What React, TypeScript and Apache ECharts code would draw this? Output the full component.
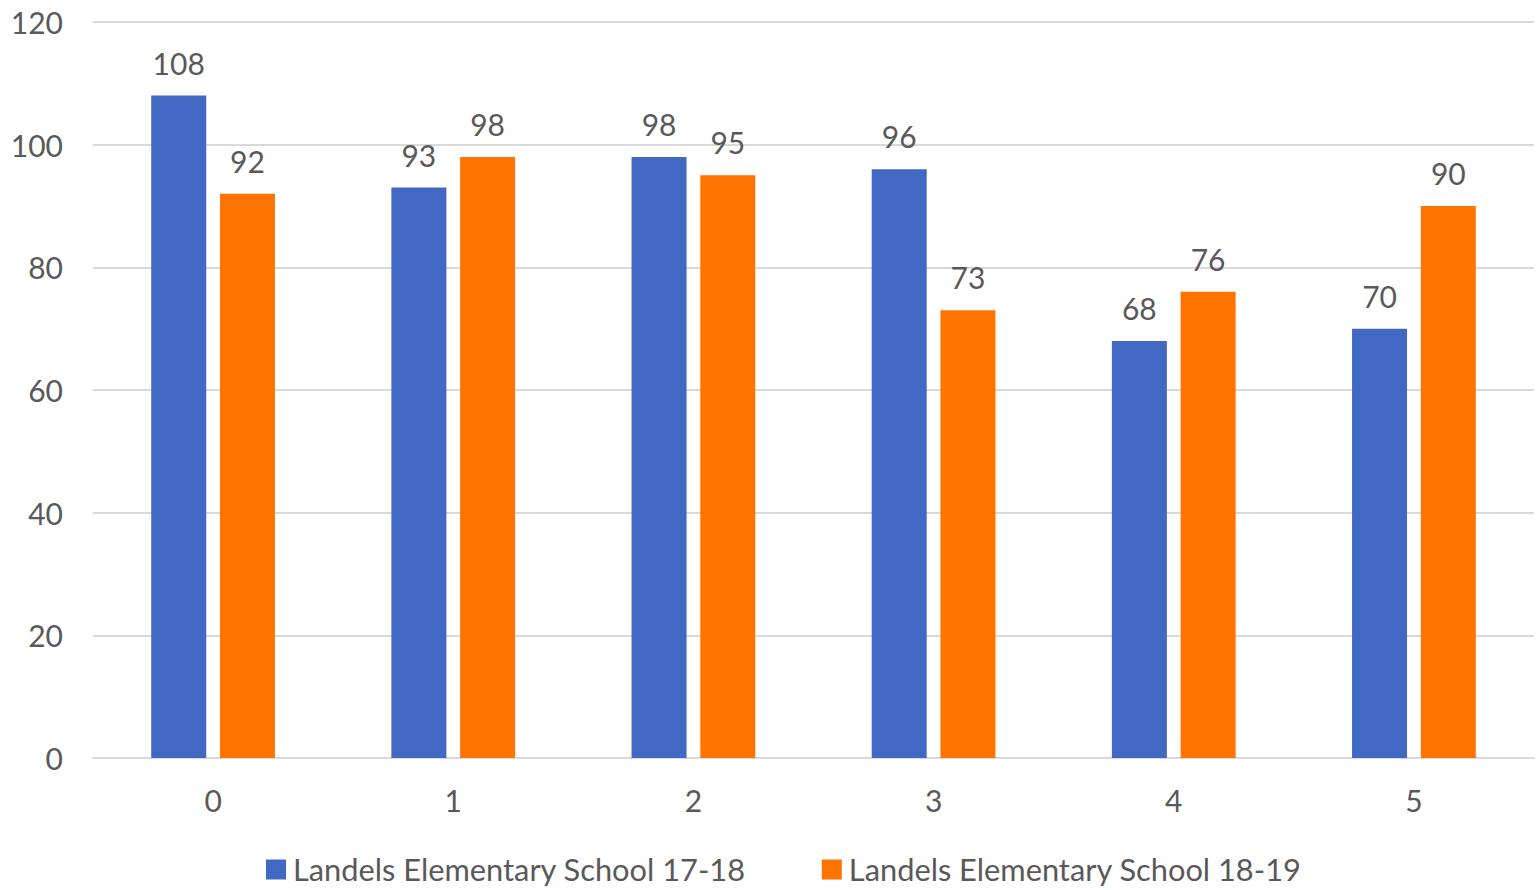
import React, { useEffect, useRef } from "react";
import * as echarts from "echarts";

const categories = ["0", "1", "2", "3", "4", "5"];
const series1Name = "Landels Elementary School 17-18";
const series2Name = "Landels Elementary School 18-19";
const series1Values = [108, 93, 98, 96, 68, 70];
const series2Values = [92, 98, 95, 73, 76, 90];
const yTicks = { min: 0, max: 120, interval: 20 };

const FONT = "Lato";
const TEXT = "#595959";

export default function App() {
  const ref = useRef<HTMLDivElement>(null);
  useEffect(() => {
    if (!ref.current) return;
    const chart = echarts.init(ref.current, null, { renderer: "svg" });
    const label = {
      show: true,
      position: "top" as const,
      distance: 18,
      color: TEXT,
      fontSize: 30,
      fontFamily: FONT,
    };
    chart.setOption({
      animation: false,
      textStyle: { fontFamily: FONT },
      grid: { left: 93, right: 4, top: 22, bottom: 132, containLabel: false },
      legend: {
        bottom: 0,
        left: 261,
        itemWidth: 20,
        itemHeight: 20,
        itemGap: 76,
        icon: "rect",
        textStyle: { color: TEXT, fontSize: 30.8, fontFamily: FONT, padding: [0, 0, 0, 2] },
        data: [series1Name, series2Name],
      },
      xAxis: {
        type: "category",
        data: categories,
        axisLine: { lineStyle: { color: "#d9d9d9", width: 2 } },
        axisTick: { show: false },
        axisLabel: { color: TEXT, fontSize: 30, fontFamily: FONT, margin: 27 },
      },
      yAxis: {
        type: "value",
        min: yTicks.min,
        max: yTicks.max,
        interval: yTicks.interval,
        axisLine: { show: false },
        axisTick: { show: false },
        splitLine: { lineStyle: { color: "#d9d9d9", width: 2 } },
        axisLabel: { color: TEXT, fontSize: 30, fontFamily: FONT, margin: 30 },
      },
      series: [
        {
          name: series1Name,
          type: "bar",
          data: series1Values,
          barWidth: 55,
          barGap: "25%",
          itemStyle: { color: "#4169C4" },
          label,
        },
        {
          name: series2Name,
          type: "bar",
          data: series2Values,
          barWidth: 55,
          itemStyle: { color: "#FF7300" },
          label,
        },
      ],
    });
    return () => chart.dispose();
  }, []);
  return (
    <div
      ref={ref}
      style={{ position: "fixed", left: 0, top: 0, width: 1538, height: 890, background: "#fff" }}
    />
  );
}
